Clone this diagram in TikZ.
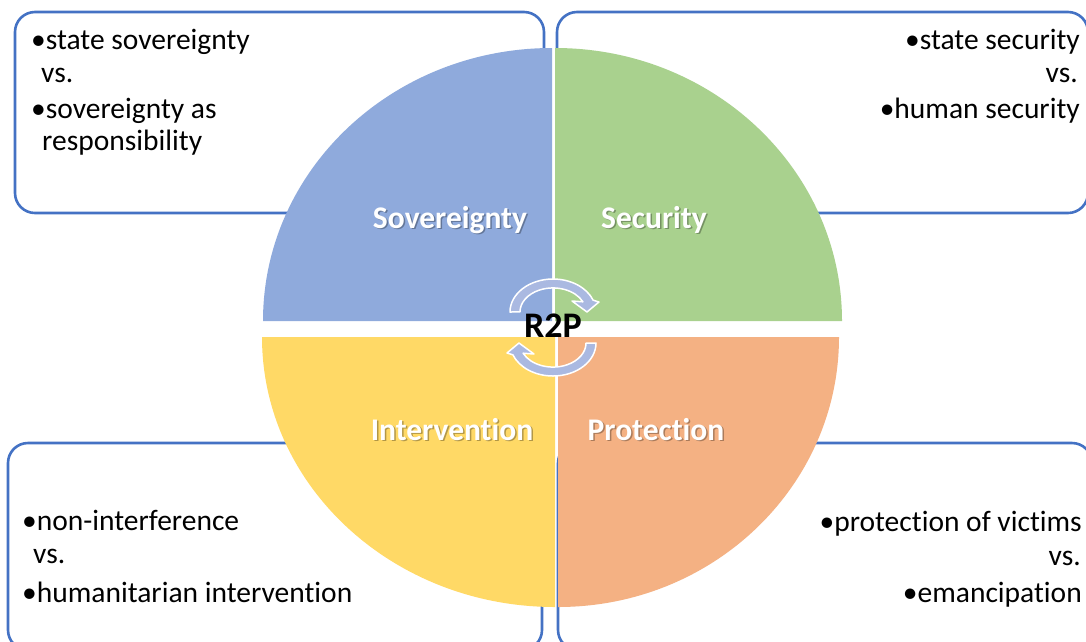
\documentclass[tikz,border=0pt]{standalone}
\usepackage{fontspec}
\setmainfont[Ligatures=NoCommon, Contextuals=NoAlternate]{Carlito}
\definecolor{frameblue}{HTML}{4472C4}
\definecolor{qblue}{HTML}{8FAADC}
\definecolor{qgreen}{HTML}{A9D18E}
\definecolor{qyellow}{HTML}{FFD966}
\definecolor{qorange}{HTML}{F4B183}
\definecolor{cyclefill}{HTML}{AAB9E1}
\begin{document}
\begin{tikzpicture}[x=1pt,y=-1pt,
  infobox/.style={draw=frameblue, line width=2.6pt, fill=white, rounded corners=20pt, inner sep=0pt},
  item/.style={inner sep=0pt, font=\fontsize{29.5}{35}\selectfont},
  itemL/.style={item, anchor=base west},
  itemR/.style={item, anchor=base east},
  quadlabel/.style={inner sep=0pt, anchor=base, font=\bfseries\fontsize{31.5}{38}\selectfont, text=white},
  quadshadow/.style={inner sep=0pt, anchor=base, font=\bfseries\fontsize{31.5}{38}\selectfont, text=black, opacity=0.3},
  cyclearrow/.style={fill=cyclefill, draw=white, line width=1.5pt, line join=round},
]
\useasboundingbox (0,0) rectangle (1086,641);

% framed text boxes behind the wheel
\node[infobox, minimum width=529pt, minimum height=201pt] (boxTL) at (279.5,112.5) {};
\node[infobox, minimum width=531pt, minimum height=201pt] (boxTR) at (822.5,112.5) {};
\node[infobox, minimum width=534pt, minimum height=207pt] (boxBL) at (275,546.5) {};
\node[infobox, minimum width=534pt, minimum height=207pt] (boxBR) at (825,546.5) {};

% the four quadrants of the wheel
\fill[qblue]   (552,321) -- (263,321) arc[start angle=180, end angle=90, x radius=289pt, y radius=273pt] -- cycle;
\fill[qgreen]  (555,321) -- (555,48) arc[start angle=90, end angle=0, x radius=287pt, y radius=273pt] -- cycle;
\fill[qyellow] (555,337) -- (555,607) arc[start angle=270, end angle=180, x radius=293pt, y radius=270pt] -- cycle;
\fill[qorange] (558,337) -- (839,337) arc[start angle=0, end angle=-90, x radius=281pt, y radius=270pt] -- cycle;

% circular arrows around the centre
\path[cyclearrow] (510,312) arc[start angle=180, end angle=21, x radius=43pt, y radius=33pt]
  -- (599,302) -- (587,312) -- (572,301) -- (582.9,301.8)
  arc[start angle=25, end angle=180, x radius=33pt, y radius=24pt] -- cycle;
\path[cyclearrow] (596,343) arc[start angle=360, end angle=201, x radius=43pt, y radius=33pt]
  -- (507,353) -- (519,343) -- (534,354) -- (523.1,353.2)
  arc[start angle=205, end angle=360, x radius=33pt, y radius=24pt] -- cycle;

\node[inner sep=0pt, anchor=base, font=\bfseries\fontsize{36}{40}\selectfont] (r2p) at (553,337) {R2P};

% quadrant titles with a soft drop shadow
\node[quadshadow] at (451.5,229.5) {Sovereignty};
\node[quadlabel] (lsov) at (450,228) {Sovereignty};
\node[quadshadow] at (655.5,229.5) {Security};
\node[quadlabel] (lsec) at (654,228) {Security};
\node[quadshadow] at (453.5,441.5) {Intervention};
\node[quadlabel] (lint) at (452,440) {Intervention};
\node[quadshadow] at (657.5,441.5) {Protection};
\node[quadlabel] (lpro) at (656,440) {Protection};

% box texts
\node[itemL] (tl1) at (31,49)  {•state sovereignty};
\node[itemL] (tl2) at (41,82)  {vs.};
\node[itemL] (tl3) at (31,118) {•sovereignty as};
\node[itemL] (tl4) at (42,150) {responsibility};

\node[itemR] (tr1) at (1080,49)  {•state security};
\node[itemR] (tr2) at (1078,82)  {vs.};
\node[itemR] (tr3) at (1080,118) {•human security};

\node[itemL] (bl1) at (22,530) {•non-interference};
\node[itemL] (bl2) at (33,563) {vs.};
\node[itemL] (bl3) at (22,602) {•humanitarian intervention};

\node[itemR] (br1) at (1082,531) {•protection of victims};
\node[itemR] (br2) at (1081,565) {vs.};
\node[itemR] (br3) at (1082,602) {•emancipation};
\end{tikzpicture}
\end{document}
